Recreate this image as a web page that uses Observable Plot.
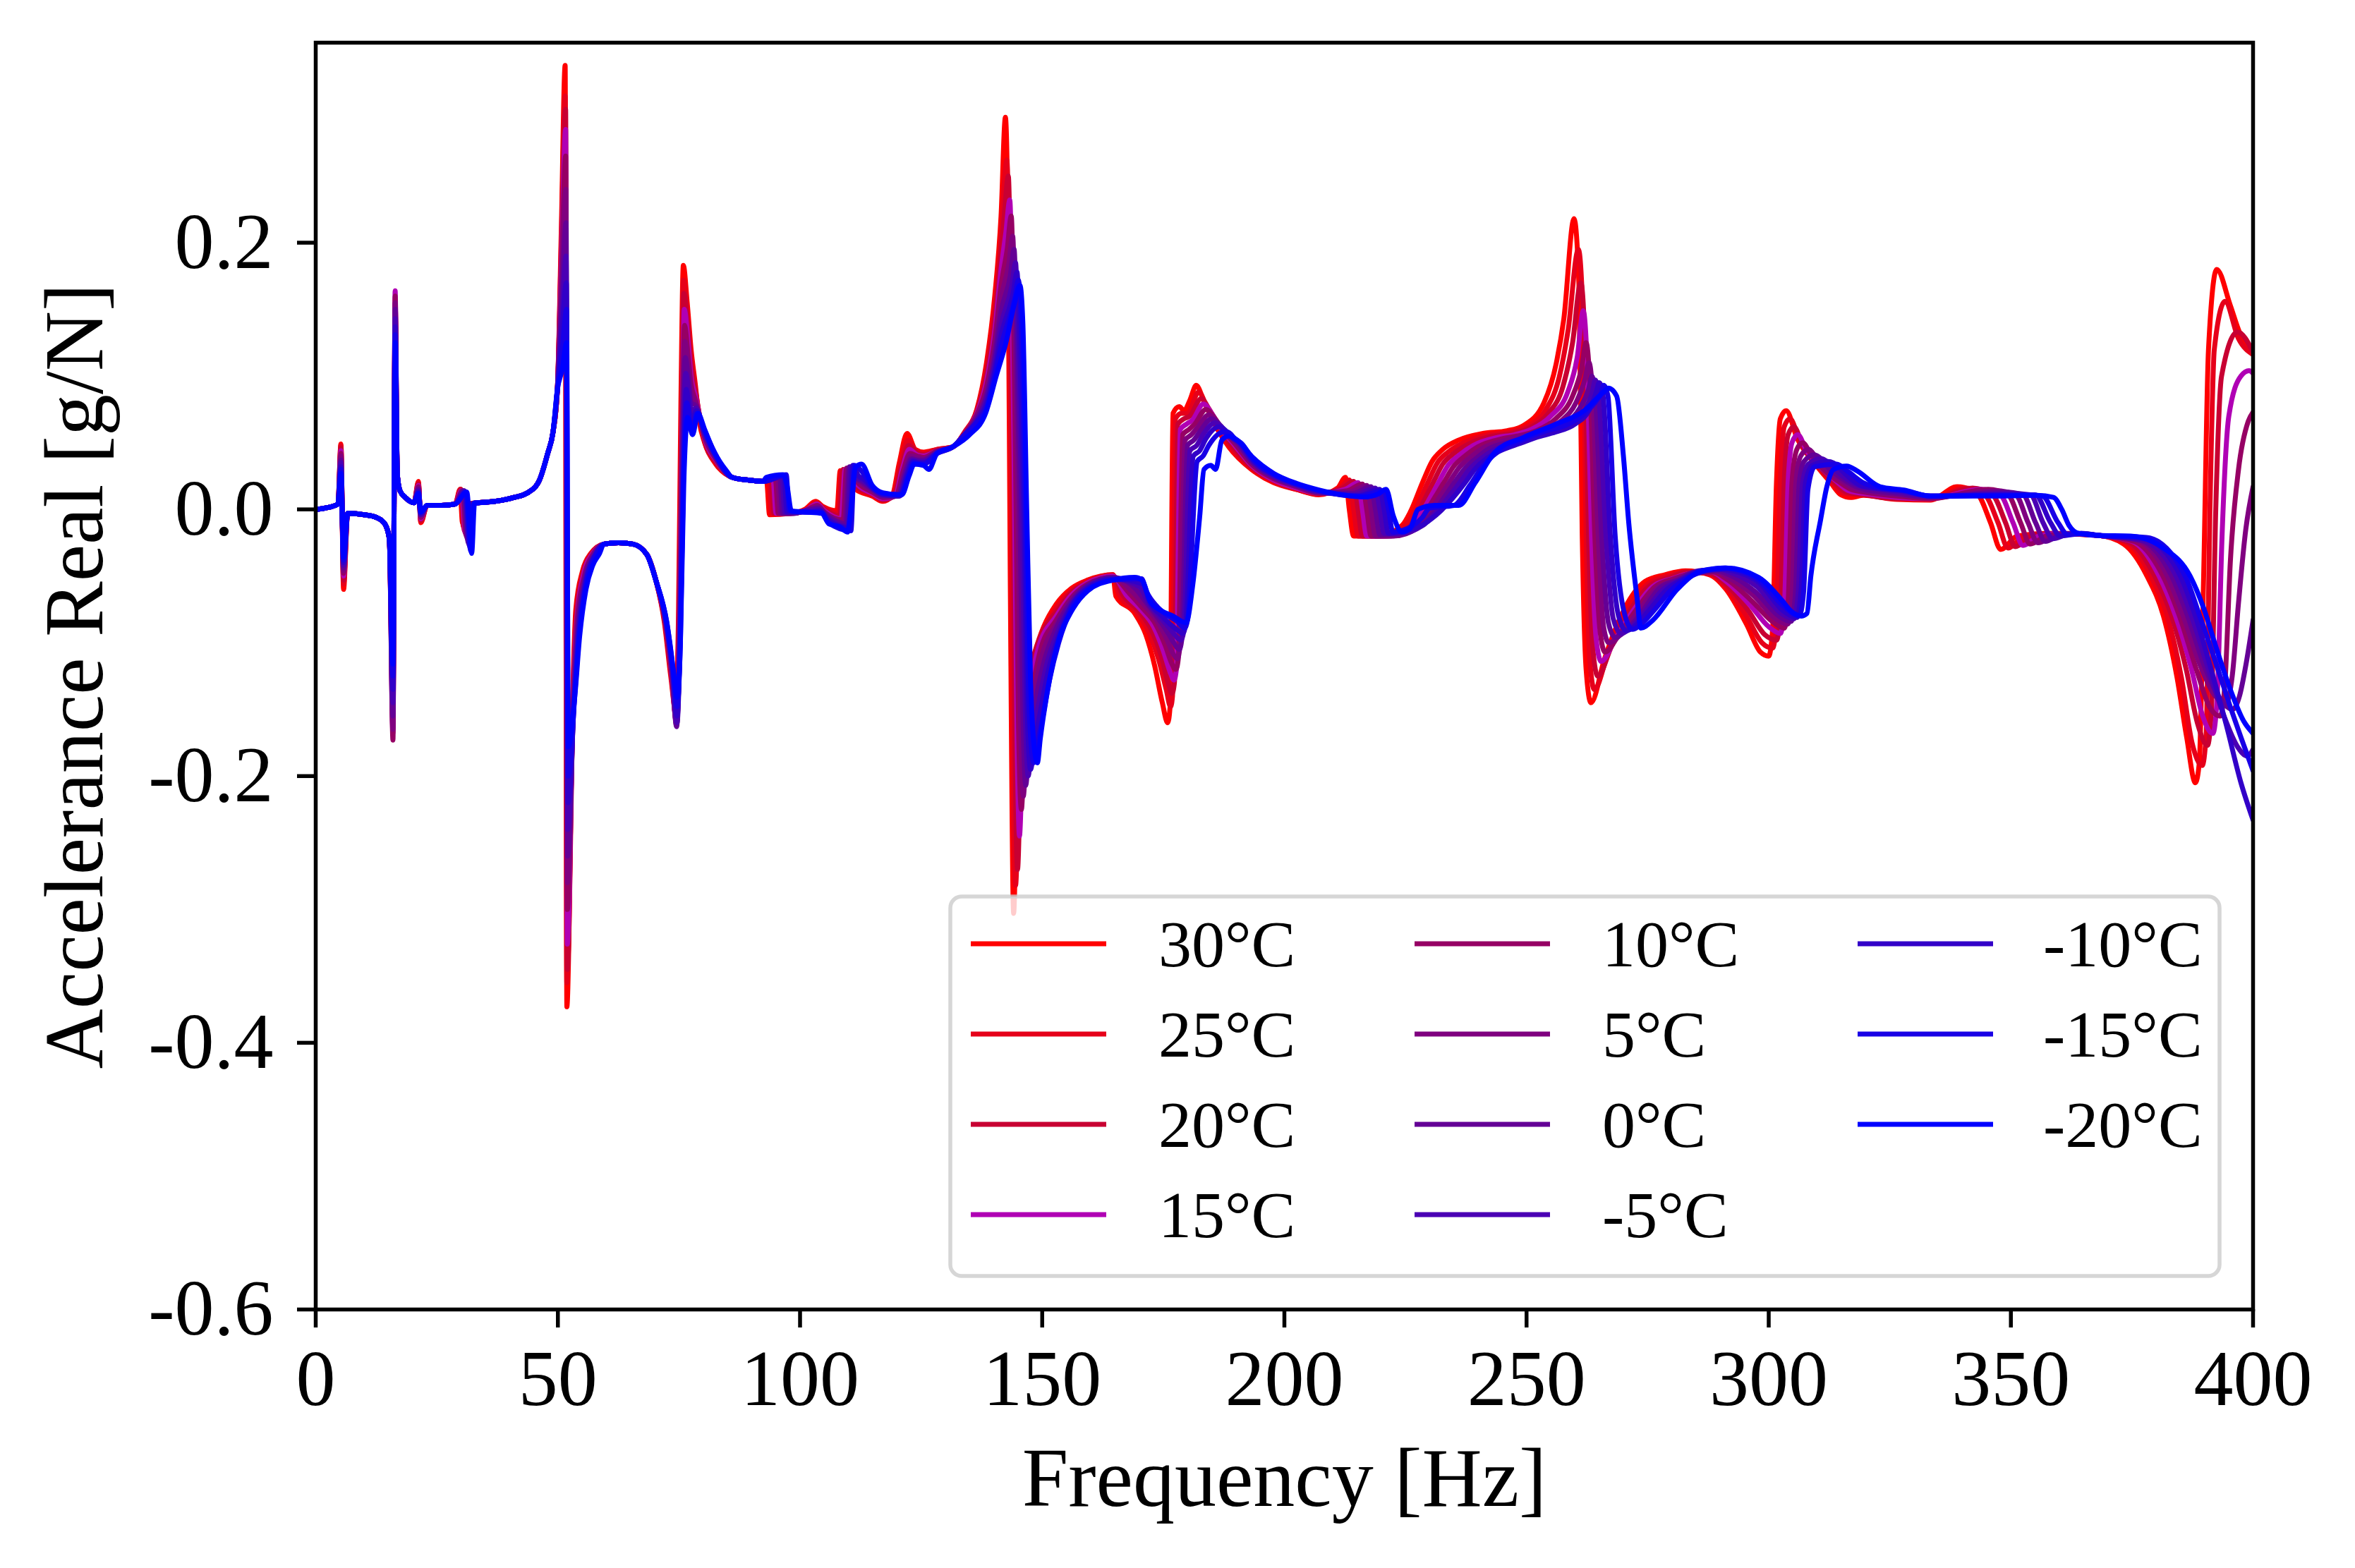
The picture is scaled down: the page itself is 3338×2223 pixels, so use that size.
<!DOCTYPE html>
<html>
<head>
<meta charset="utf-8">
<script src="https://cdn.jsdelivr.net/npm/d3@7"></script>
<script src="https://cdn.jsdelivr.net/npm/@observablehq/plot@0.6"></script>
<style>
  html, body { margin: 0; padding: 0; background: white; }
  #chart { width: 3338px; height: 2223px; }
</style>
</head>
<body>
<div id="chart"></div>
<script>
// ---------------- data ----------------
const seriesLabels = ["30°C", "25°C", "20°C", "15°C", "10°C", "5°C", "0°C", "-5°C", "-10°C", "-15°C", "-20°C"];
const seriesColors = ["#ff0000", "#e6001a", "#c80032", "#b000b4", "#960064", "#800080", "#640096", "#4b00b4", "#3200c8", "#1900e6", "#0000ff"];
const xTicks = [0, 50, 100, 150, 200, 250, 300, 350, 400];
const xTickLabels = ["0", "50", "100", "150", "200", "250", "300", "350", "400"];
const yTicks = [-0.6, -0.4, -0.2, 0, 0.2];
const yTickLabels = ["-0.6", "-0.4", "-0.2", "0.0", "0.2"];
const xLabel = "Frequency [Hz]";
const yLabel = "Accelerance Real [g/N]";

// points [frequency Hz, value g/N] where all temperatures coincide
const sharedPoints = [[0,0.0],[2,0.001],[4.6,0.004],[6.6,-0.003],[10,-0.004],[12.5,-0.006],[14.3,-0.011],[15.2,-0.022],
[17.4,0.014],[18.5,0.009],[20.3,0.005],[23,0.003],[26,0.003],[28.8,0.004],[33.6,0.005],[37,0.006],[41,0.009],[44,0.013],
[46.2,0.022],[47.9,0.042],[49.0,0.058],[49.9,0.09],[59.5,-0.026],[62.5,-0.025],[65.5,-0.026],[68.4,-0.034],[70.3,-0.054],
[86,0.024],[89.2,0.022],[92.4,0.021],[131.6,0.047],[368,-0.0195]];

const t30 = [[5.2,0.049],[5.75,-0.060],[15.95,-0.140],[16.4,0.140],[16.85,0.026],[21.2,0.021],[21.7,-0.010],
[29.8,0.015],[30.3,-0.010],[30.9,0.004],
[50.7,0.208],[51.5,0.333],[51.85,-0.373],[53.1,-0.134],[53.7,-0.075],[55.1,-0.046],[56.8,-0.033],
[72.0,-0.085],[73.3,-0.125],[74.3,-0.150],[74.9,-0.080],[75.4,0.080],[75.9,0.183],[76.7,0.155],[77.5,0.120],[78.4,0.093],[79.2,0.066],[80.3,0.050],[82.6,0.034],
[93.1,0.021],[93.7,-0.004],[98,-0.003],[101,0.000],[103.2,0.006],[104.8,0.002],[107.6,-0.001],[108.3,0.029],[109.5,0.027],[111.5,0.015],[114.9,0.010],[117.1,0.006],[119.0,0.010],[120.5,0.035],[122.1,0.057],[123.8,0.045],[125.5,0.043],[128.3,0.045],
[134.0,0.058],[136.5,0.075],[138.5,0.110],[140.2,0.160],[141.5,0.220],[142.4,0.294],[142.9,0.220],[143.4,-0.050],[144.1,-0.303],[144.7,-0.220],[145.5,-0.160],[146.4,-0.135],[148.3,-0.109],[150.3,-0.088],[152.9,-0.071],[156.1,-0.059],[159.4,-0.053],[164.6,-0.049],[165.2,-0.065],[169.1,-0.078],[171.4,-0.094],[173.2,-0.117],[174.8,-0.145],[175.9,-0.160],[176.4,-0.148],[177.0,0.072],[178.3,0.077],[179.3,0.074],[180.5,0.082],[181.8,0.093],[183.5,0.080],[186.2,0.060],[188.5,0.047],[193.2,0.030],[197.8,0.020],[202.5,0.015],[207.1,0.011],
[211.0,0.016],[212.6,0.024],[213.4,0.000],[214.3,-0.020],[219.3,-0.020],[224.3,-0.012],[226.0,-0.002],[228.5,0.020],[230.5,0.036],[232.7,0.045],[236.0,0.052],[241.0,0.057],[246.0,0.059],[249.4,0.063],[253.6,0.080],[256.1,0.109],[257.7,0.143],[259.8,0.218],[260.8,0.170],[261.5,-0.020],[262.3,-0.120],[263.3,-0.145],[266.1,-0.112],[270.3,-0.074],[274.5,-0.054],[278.6,-0.049],[282.8,-0.046],
[287.8,-0.049],[291.2,-0.060],[295.4,-0.086],[298.3,-0.107],[300.0,-0.110],[300.8,-0.090],[301.6,0.020],[302.4,0.068],[303.6,0.074],[305.9,0.053],[309.4,0.035],[312.8,0.020],[314.9,0.011],[316.9,0.009],[319.6,0.0105],[326.5,0.0075],[333.4,0.007],[338.9,0.017],[343.0,0.012],[345.8,-0.010],[347.9,-0.030],[351.3,-0.020],[357.5,-0.018],
[373.3,-0.026],[378.1,-0.050],[381.5,-0.080],[384.3,-0.126],[386.3,-0.171],[388.1,-0.205],[388.9,-0.190],[389.8,-0.050],[390.8,0.120],[392.5,0.180],[395.3,0.153],[397.3,0.132],[400,0.120]];

const t25 = [[5.2,0.048],[5.75,-0.056],[15.95,-0.150],[16.4,0.148],[16.85,0.026],[21.2,0.020],[21.7,-0.009],
[29.9,0.015],[30.5,-0.013],[31.1,0.004],
[50.7,0.198],[51.5,0.310],[51.85,-0.355],[53.15,-0.135],[53.8,-0.077],[55.2,-0.047],[56.9,-0.033],
[72.1,-0.085],[73.4,-0.124],[74.4,-0.152],[75.0,-0.080],[75.5,0.060],[75.95,0.172],[76.7,0.148],[77.5,0.115],[78.4,0.090],[80.3,0.051],[82.6,0.035],
[93.6,0.022],[94.15,-0.003],[98,-0.003],[101,-0.001],[103.3,0.005],[105,0.001],[107.9,-0.003],[108.6,0.029],[109.8,0.026],[111.6,0.016],[114.9,0.011],[117.1,0.007],[119.2,0.010],[120.7,0.033],[122.25,0.052],[123.9,0.044],[125.5,0.042],[128.3,0.045],
[134.0,0.058],[136.5,0.074],[138.5,0.105],[140.2,0.150],[141.5,0.205],[141.9,0.230],[142.7,0.262],[143.1,0.200],[143.6,0.000],[144.0,-0.200],[144.5,-0.282],[145.2,-0.200],[146.7,-0.133],[148.5,-0.108],[150.3,-0.092],[152.9,-0.074],[156.1,-0.061],[159.4,-0.054],[164.6,-0.049],[165.9,-0.064],[169.5,-0.077],[172.0,-0.092],[174.0,-0.112],[175.6,-0.135],[176.5,-0.148],[176.9,-0.140],[177.5,0.068],[178.8,0.072],[180.0,0.072],[182.3,0.088],[184.0,0.077],[186.5,0.060],[188.7,0.048],[193.2,0.031],[197.8,0.021],[202.5,0.015],[207.1,0.0115],
[211.5,0.016],[213.4,0.022],[214.3,0.000],[215.2,-0.020],[220.0,-0.020],[225.0,-0.012],[226.8,-0.002],[229.6,0.020],[231.6,0.035],[233.8,0.043],[237.0,0.050],[242.0,0.056],[246.5,0.058],[250.0,0.062],[254.0,0.075],[256.8,0.100],[258.6,0.135],[260.7,0.195],[261.6,0.150],[262.3,-0.020],[263.1,-0.115],[264.0,-0.135],[266.8,-0.108],[270.8,-0.075],[275.0,-0.056],[279.0,-0.050],[283.0,-0.047],
[287.8,-0.048],[291.2,-0.058],[295.4,-0.080],[298.6,-0.100],[300.8,-0.104],[301.6,-0.085],[302.4,0.020],[303.2,0.062],[304.4,0.068],[306.5,0.050],[309.8,0.034],[313.2,0.020],[315.5,0.012],[319.6,0.011],[326.5,0.008],[333.4,0.0075],[340.5,0.016],[344.6,0.011],[347.35,-0.010],[349.4,-0.029],[352.8,-0.020],[358.5,-0.018],
[374.0,-0.025],[378.9,-0.050],[382.3,-0.080],[385.2,-0.126],[387.4,-0.175],[389.5,-0.192],[390.3,-0.170],[391.1,0.000],[392.0,0.120],[394.2,0.156],[397.0,0.128],[400,0.116]];

const t20 = [[5.2,0.046],[5.75,-0.053],[15.95,-0.160],[16.4,0.155],[16.85,0.026],[21.2,0.019],[21.7,-0.008],
[30.0,0.015],[30.7,-0.016],[31.3,0.004],
[50.7,0.190],[51.6,0.300],[51.95,-0.345],[53.2,-0.135],[53.9,-0.079],[55.25,-0.048],[57.1,-0.033],
[72.1,-0.085],[73.4,-0.124],[74.4,-0.155],[75.0,-0.080],[75.5,0.050],[76.0,0.162],[76.8,0.138],[77.5,0.108],[78.4,0.088],[80.3,0.052],[82.6,0.036],
[94.0,0.022],[94.6,-0.003],[98,-0.003],[101,-0.001],[103.4,0.004],[105,0.000],[108.2,-0.005],[108.9,0.030],[110.1,0.026],[111.8,0.017],[114.9,0.012],[117.1,0.007],[119.4,0.010],[120.9,0.031],[122.4,0.048],[124.0,0.043],[125.5,0.041],[128.3,0.044],
[134.0,0.057],[136.5,0.073],[138.5,0.100],[140.2,0.142],[141.5,0.192],[142.2,0.222],[143.0,0.250],[143.4,0.190],[144.0,0.000],[144.4,-0.180],[144.9,-0.270],[145.6,-0.190],[147.1,-0.133],[148.8,-0.104],[150.3,-0.090],[152.9,-0.077],[156.1,-0.062],[159.4,-0.055],[164.6,-0.050],[166.6,-0.064],[169.9,-0.076],[172.5,-0.090],[174.6,-0.110],[176.0,-0.130],[176.8,-0.138],[177.3,-0.130],[178.0,0.064],[179.3,0.068],[180.5,0.070],[182.8,0.083],[184.5,0.075],[186.8,0.060],[189.0,0.049],[193.2,0.032],[197.8,0.022],[202.5,0.016],[207.1,0.012],
[212.0,0.016],[214.3,0.021],[215.2,0.000],[216.1,-0.020],[220.8,-0.020],[225.8,-0.013],[227.6,-0.002],[230.7,0.020],[232.7,0.034],[235.0,0.042],[238.0,0.049],[243.0,0.055],[247.0,0.057],[250.5,0.061],[254.5,0.072],[257.5,0.092],[259.5,0.125],[261.2,0.170],[262.0,0.130],[262.8,-0.020],[263.7,-0.105],[264.7,-0.125],[267.5,-0.103],[271.3,-0.076],[275.5,-0.057],[279.5,-0.051],[283.3,-0.047],
[288.0,-0.048],[291.2,-0.056],[295.8,-0.076],[299.2,-0.094],[301.6,-0.098],[302.4,-0.080],[303.2,0.020],[304.0,0.056],[305.2,0.062],[307.1,0.047],[310.2,0.033],[313.6,0.020],[316.0,0.013],[319.6,0.011],[326.5,0.008],[333.4,0.008],[342.1,0.016],[346.2,0.011],[348.9,-0.010],[350.9,-0.028],[354.3,-0.020],[359.5,-0.018],
[374.6,-0.025],[379.7,-0.050],[383.2,-0.080],[386.2,-0.120],[388.5,-0.160],[390.6,-0.177],[391.4,-0.150],[392.3,0.000],[393.5,0.100],[396.8,0.133],[400,0.118]];

const t15 = [[5.2,0.044],[5.75,-0.050],[15.95,-0.168],[16.4,0.164],[16.85,0.026],[21.2,0.018],[21.7,-0.007],
[30.1,0.014],[30.9,-0.018],[31.5,0.004],
[50.7,0.180],[51.6,0.285],[51.95,-0.326],[53.2,-0.136],[53.95,-0.081],[55.3,-0.049],[57.2,-0.033],
[72.2,-0.085],[73.5,-0.124],[74.4,-0.158],[75.1,-0.080],[75.6,0.045],[76.1,0.150],[76.9,0.125],[77.5,0.100],[78.4,0.085],[80.3,0.053],[82.6,0.037],
[94.4,0.023],[95.05,-0.003],[98,-0.003],[101,-0.001],[103.5,0.004],[105,-0.001],[108.5,-0.007],[109.3,0.030],[110.5,0.025],[112.0,0.018],[114.9,0.012],[117.1,0.008],[119.6,0.010],[121.1,0.030],[122.55,0.045],[124.1,0.041],[125.5,0.040],[128.3,0.044],
[134.0,0.057],[136.5,0.072],[138.5,0.096],[140.2,0.134],[141.5,0.180],[142.5,0.208],[143.3,0.232],[143.7,0.180],[144.3,0.000],[144.8,-0.170],[145.3,-0.245],[146.0,-0.178],[147.5,-0.134],[149.2,-0.104],[152.9,-0.080],[156.1,-0.064],[159.4,-0.055],[164.6,-0.050],[167.3,-0.064],[170.3,-0.075],[173.0,-0.088],[175.0,-0.106],[176.4,-0.122],[177.2,-0.128],[177.7,-0.120],[178.5,0.060],[179.8,0.064],[181.0,0.067],[183.3,0.079],[185.0,0.072],[187.2,0.059],[189.3,0.050],[193.2,0.033],[197.8,0.022],[202.5,0.016],[207.1,0.012],
[212.5,0.015],[215.2,0.020],[216.1,0.000],[217.0,-0.020],[221.5,-0.020],[226.5,-0.013],[228.4,-0.002],[231.8,0.020],[233.8,0.033],[236.2,0.041],[239.0,0.048],[244.0,0.054],[247.5,0.056],[251.0,0.060],[255.0,0.070],[258.5,0.088],[260.5,0.115],[261.7,0.149],[262.5,0.110],[263.4,-0.020],[264.4,-0.098],[265.4,-0.114],[268.2,-0.098],[271.8,-0.077],[276.0,-0.058],[280.0,-0.052],[283.8,-0.048],
[288.2,-0.047],[291.2,-0.054],[296.2,-0.072],[300.0,-0.088],[302.4,-0.093],[303.2,-0.075],[304.0,0.020],[304.8,0.050],[306.0,0.056],[307.8,0.044],[310.6,0.032],[314.0,0.021],[316.5,0.014],[319.6,0.012],[326.5,0.009],[333.4,0.008],[343.7,0.015],[347.8,0.011],[350.45,-0.010],[352.5,-0.027],[355.8,-0.020],[360.5,-0.018],
[375.0,-0.024],[380.6,-0.050],[384.0,-0.080],[387.3,-0.120],[389.6,-0.155],[391.7,-0.168],[392.6,-0.140],[393.6,-0.020],[395.0,0.070],[397.5,0.100],[399.2,0.104],[400,0.102]];

const t10 = [[5.2,0.042],[5.75,-0.048],[15.95,-0.173],[16.4,0.160],[16.85,0.026],[21.2,0.017],[21.7,-0.006],
[30.3,0.014],[31.1,-0.020],[31.7,0.004],
[50.7,0.170],[51.6,0.265],[51.95,-0.300],[53.25,-0.137],[54.0,-0.083],[55.4,-0.051],[57.35,-0.033],
[72.2,-0.085],[73.5,-0.123],[74.5,-0.160],[75.1,-0.085],[75.6,0.040],[76.15,0.138],[76.9,0.115],[77.5,0.094],[78.4,0.082],[80.3,0.054],[82.6,0.038],
[94.9,0.023],[95.5,-0.003],[98,-0.003],[101,-0.001],[103.6,0.003],[105,-0.002],[108.9,-0.008],[109.6,0.031],[110.8,0.025],[112.2,0.019],[114.9,0.013],[117.1,0.009],[119.8,0.010],[121.3,0.029],[122.7,0.042],[124.2,0.040],[125.5,0.039],[128.3,0.044],
[134.0,0.057],[136.5,0.071],[138.5,0.092],[140.2,0.127],[141.5,0.168],[142.8,0.196],[143.6,0.220],[144.0,0.170],[144.6,0.000],[145.1,-0.160],[145.7,-0.225],[146.4,-0.170],[147.9,-0.136],[149.6,-0.106],[152.9,-0.083],[156.1,-0.066],[159.4,-0.056],[164.6,-0.051],[168.0,-0.063],[170.7,-0.074],[173.4,-0.086],[175.4,-0.102],[176.8,-0.116],[177.6,-0.120],[178.1,-0.112],[179.0,0.056],[180.3,0.060],[181.5,0.064],[183.8,0.075],[185.5,0.069],[187.6,0.058],[189.6,0.050],[193.2,0.034],[197.8,0.023],[202.5,0.017],[207.1,0.012],
[213.0,0.014],[216.1,0.019],[217.0,0.000],[217.9,-0.020],[222.0,-0.020],[227.2,-0.013],[229.2,-0.002],[232.9,0.020],[234.9,0.032],[237.3,0.040],[240.0,0.047],[245.0,0.053],[248.0,0.055],[252.0,0.059],[256.0,0.068],[259.5,0.085],[261.3,0.105],[262.3,0.125],[263.0,0.100],[264.1,-0.020],[265.2,-0.092],[266.2,-0.107],[268.9,-0.095],[272.3,-0.077],[276.5,-0.058],[280.4,-0.052],[284.2,-0.048],
[288.5,-0.047],[291.2,-0.052],[296.6,-0.069],[300.7,-0.084],[303.2,-0.089],[304.0,-0.070],[304.8,0.020],[305.8,0.045],[307.0,0.050],[308.6,0.042],[311.0,0.031],[314.4,0.021],[317.0,0.015],[319.6,0.013],[326.5,0.010],[333.4,0.008],[345.3,0.015],[349.4,0.011],[352.0,-0.010],[354.0,-0.026],[357.3,-0.020],[361.5,-0.018],
[375.5,-0.024],[381.4,-0.050],[384.8,-0.080],[388.3,-0.120],[391.0,-0.148],[393.2,-0.155],[394.2,-0.130],[395.3,-0.040],[397.0,0.030],[399.0,0.066],[400,0.073]];

const t5 = [[5.2,0.040],[5.75,-0.046],[15.95,-0.165],[16.4,0.155],[16.85,0.026],[21.2,0.016],[21.7,-0.005],
[30.4,0.014],[31.3,-0.022],[31.9,0.004],
[50.75,0.160],[51.65,0.240],[52.0,-0.280],[53.3,-0.137],[54.1,-0.085],[55.45,-0.052],[57.5,-0.033],
[72.3,-0.085],[73.6,-0.122],[74.5,-0.162],[75.2,-0.088],[75.7,0.035],[76.2,0.126],[77.0,0.105],[77.5,0.088],[78.4,0.080],[80.3,0.055],[82.6,0.038],
[95.35,0.024],[95.95,-0.003],[98.5,-0.003],[101,-0.001],[103.7,0.002],[105.2,-0.003],[109.2,-0.010],[109.9,0.031],[111.1,0.024],[112.4,0.020],[114.9,0.014],[117.1,0.009],[120.0,0.010],[121.5,0.028],[122.85,0.040],[124.3,0.039],[125.5,0.038],[128.3,0.043],
[134.0,0.056],[136.5,0.070],[138.5,0.088],[140.2,0.120],[141.5,0.158],[143.1,0.184],[143.9,0.205],[144.3,0.160],[145.0,0.000],[145.5,-0.150],[146.1,-0.215],[146.8,-0.170],[148.3,-0.138],[150.0,-0.109],[152.9,-0.086],[156.1,-0.067],[159.4,-0.057],[164.6,-0.051],[168.7,-0.062],[171.1,-0.072],[173.8,-0.084],[175.8,-0.098],[177.3,-0.110],[177.9,-0.112],[178.4,-0.104],[179.5,0.052],[180.8,0.056],[182.0,0.061],[184.4,0.071],[186.0,0.066],[188.0,0.057],[190.0,0.050],[193.2,0.035],[197.8,0.024],[202.5,0.017],[207.1,0.013],
[213.5,0.013],[217.0,0.018],[217.9,0.000],[218.8,-0.020],[222.6,-0.020],[227.8,-0.013],[230.0,-0.002],[234.0,0.020],[236.0,0.031],[238.4,0.039],[241.0,0.046],[246.0,0.052],[249.0,0.055],[253.0,0.058],[257.0,0.066],[260.2,0.080],[262.0,0.097],[262.9,0.110],[263.6,0.090],[264.8,-0.020],[265.9,-0.088],[267.0,-0.100],[269.6,-0.093],[272.8,-0.078],[277.0,-0.059],[280.8,-0.053],[284.6,-0.047],
[289.0,-0.046],[291.2,-0.050],[297.0,-0.065],[301.4,-0.082],[303.9,-0.086],[304.8,-0.066],[305.6,0.020],[306.6,0.040],[308.2,0.045],[309.6,0.040],[311.6,0.031],[314.8,0.022],[317.5,0.016],[319.6,0.014],[326.5,0.011],[333.4,0.009],[346.9,0.014],[351.0,0.011],[353.55,-0.010],[355.55,-0.025],[358.8,-0.020],[362.5,-0.018],
[376.0,-0.023],[382.3,-0.050],[385.6,-0.080],[389.2,-0.118],[392.2,-0.140],[394.5,-0.145],[395.7,-0.125],[397.0,-0.070],[398.5,-0.015],[400,0.017]];

const t0 = [[5.2,0.037],[5.75,-0.044],[15.95,-0.155],[16.4,0.150],[16.85,0.026],[21.2,0.015],[21.7,-0.004],
[30.6,0.014],[31.5,-0.025],[32.1,0.004],
[50.75,0.150],[51.7,0.215],[52.05,-0.260],[53.35,-0.138],[54.2,-0.087],[55.5,-0.054],[57.65,-0.033],
[72.3,-0.085],[73.6,-0.122],[74.5,-0.163],[75.2,-0.090],[75.7,0.030],[76.3,0.114],[77.0,0.096],[77.5,0.080],[78.4,0.078],[80.3,0.056],[82.6,0.039],
[95.8,0.024],[96.4,-0.003],[98.8,-0.003],[101,-0.001],[103.8,0.001],[105.4,-0.004],[109.5,-0.011],[110.2,0.032],[111.4,0.024],[112.6,0.021],[114.9,0.015],[117.1,0.010],[120.2,0.010],[121.7,0.027],[123.0,0.038],[124.4,0.037],[125.5,0.037],[128.3,0.043],
[134.0,0.056],[136.5,0.068],[138.5,0.085],[140.2,0.114],[141.5,0.148],[143.4,0.175],[144.2,0.195],[144.6,0.150],[145.4,0.000],[146.0,-0.150],[146.6,-0.207],[147.3,-0.172],[148.7,-0.142],[150.4,-0.114],[152.9,-0.089],[156.1,-0.069],[159.4,-0.057],[164.6,-0.051],[169.4,-0.060],[171.5,-0.070],[174.2,-0.083],[176.2,-0.094],[177.7,-0.103],[178.3,-0.105],[178.8,-0.098],[180.0,0.048],[181.3,0.052],[182.5,0.058],[185.0,0.068],[186.5,0.064],[188.4,0.056],[190.3,0.050],[193.2,0.036],[197.8,0.024],[202.5,0.018],[207.1,0.013],
[214.0,0.012],[217.9,0.017],[218.8,0.000],[219.7,-0.019],[223.2,-0.019],[228.3,-0.012],[230.8,-0.002],[235.1,0.020],[237.1,0.030],[239.5,0.038],[242.0,0.045],[247.0,0.051],[250.0,0.054],[254.0,0.058],[258.0,0.064],[261.0,0.076],[262.8,0.090],[263.5,0.100],[264.2,0.085],[265.5,-0.020],[266.9,-0.085],[268.3,-0.096],[270.5,-0.091],[273.4,-0.079],[277.5,-0.059],[281.2,-0.053],[285.0,-0.047],
[289.5,-0.046],[291.2,-0.048],[297.3,-0.062],[302.1,-0.080],[304.6,-0.084],[305.5,-0.064],[306.3,0.020],[307.3,0.036],[309.4,0.041],[310.8,0.038],[312.4,0.031],[315.2,0.023],[318.0,0.017],[320.0,0.015],[326.5,0.012],[333.4,0.009],[348.5,0.013],[352.5,0.011],[355.1,-0.010],[357.1,-0.024],[360.3,-0.019],[363.5,-0.018],
[376.5,-0.023],[383.2,-0.050],[386.5,-0.080],[390.0,-0.118],[393.2,-0.142],[395.8,-0.150],[397.2,-0.140],[398.6,-0.115],[400,-0.083]];

const tm5 = [[5.2,0.035],[5.75,-0.042],[15.95,-0.145],[16.4,0.143],[16.85,0.026],[21.2,0.014],[21.7,-0.004],
[30.7,0.014],[31.7,-0.027],[32.3,0.004],
[50.8,0.140],[51.7,0.190],[52.05,-0.240],[53.4,-0.138],[54.25,-0.089],[55.6,-0.055],[57.8,-0.033],
[72.4,-0.085],[73.7,-0.121],[74.6,-0.160],[75.25,-0.093],[75.8,0.025],[76.4,0.102],[77.1,0.085],[77.6,0.073],[78.5,0.076],[80.3,0.057],[82.6,0.040],
[96.25,0.025],[96.85,-0.002],[99.2,-0.002],[101.5,-0.001],[103.9,0.000],[105.6,-0.006],[109.8,-0.013],[110.5,0.032],[111.7,0.024],[112.8,0.022],[114.9,0.016],[117.1,0.011],[120.4,0.010],[121.9,0.026],[123.15,0.037],[124.5,0.036],[125.5,0.036],[128.3,0.043],
[134.0,0.056],[136.5,0.067],[138.5,0.082],[140.2,0.109],[141.5,0.138],[143.7,0.167],[144.5,0.185],[144.9,0.145],[145.8,0.000],[146.5,-0.150],[147.1,-0.200],[147.8,-0.175],[149.2,-0.147],[150.8,-0.118],[153.2,-0.092],[156.1,-0.071],[159.4,-0.058],[164.6,-0.052],[170.1,-0.058],[171.9,-0.070],[174.4,-0.081],[176.5,-0.090],[178.1,-0.097],[178.6,-0.098],[179.2,-0.092],[180.5,0.044],[181.9,0.048],[183.2,0.056],[185.7,0.065],[187.0,0.062],[188.8,0.055],[190.6,0.050],[193.2,0.037],[197.8,0.025],[202.5,0.018],[207.1,0.013],
[214.5,0.011],[218.8,0.016],[219.7,0.000],[220.6,-0.018],[223.6,-0.018],[228.6,-0.012],[231.6,-0.001],[236.2,0.020],[238.2,0.030],[240.6,0.038],[243.0,0.044],[248.0,0.050],[251.0,0.054],[255.0,0.058],[259.0,0.064],[262.0,0.074],[263.6,0.088],[264.2,0.097],[264.9,0.085],[266.4,-0.020],[267.9,-0.082],[269.5,-0.093],[271.5,-0.089],[274.2,-0.078],[278.2,-0.060],[281.8,-0.053],[285.5,-0.046],
[290.0,-0.045],[291.8,-0.047],[297.6,-0.058],[302.6,-0.078],[305.2,-0.082],[306.1,-0.062],[307.0,0.020],[308.2,0.034],[310.8,0.038],[312.0,0.036],[313.4,0.031],[315.6,0.024],[318.5,0.018],[321.0,0.016],[327.0,0.013],[333.4,0.010],[350.0,0.012],[354.0,0.011],[356.65,-0.010],[358.65,-0.022],[361.5,-0.019],[364.5,-0.018],
[377.0,-0.023],[384.1,-0.050],[387.3,-0.080],[390.8,-0.120],[394.0,-0.155],[396.8,-0.178],[398.8,-0.185],[400,-0.180]];

const tm10 = [[5.2,0.032],[5.75,-0.040],[15.95,-0.135],[16.4,0.137],[16.85,0.026],[21.2,0.013],[21.7,-0.003],
[30.9,0.013],[31.9,-0.029],[32.5,0.004],
[50.8,0.130],[51.75,0.170],[52.1,-0.220],[53.45,-0.139],[54.35,-0.091],[55.65,-0.057],[57.9,-0.033],
[72.4,-0.085],[73.7,-0.121],[74.6,-0.155],[75.25,-0.095],[75.9,0.020],[76.5,0.090],[77.2,0.072],[77.7,0.066],[78.6,0.074],[80.3,0.058],[82.6,0.040],
[96.7,0.025],[97.3,-0.002],[99.6,-0.002],[102,-0.002],[104.1,-0.001],[105.8,-0.008],[110.2,-0.014],[110.9,0.033],[112.1,0.025],[113.1,0.023],[114.9,0.016],[117.1,0.011],[120.6,0.010],[122.1,0.026],[123.3,0.036],[124.6,0.035],[125.5,0.035],[128.3,0.042],
[134.0,0.056],[136.5,0.066],[138.5,0.079],[140.2,0.104],[141.5,0.130],[144.0,0.162],[144.8,0.178],[145.2,0.145],[146.2,0.000],[146.9,-0.150],[147.6,-0.195],[148.3,-0.178],[149.6,-0.152],[151.2,-0.122],[153.3,-0.096],[156.1,-0.072],[159.4,-0.059],[164.6,-0.052],[170.8,-0.056],[172.1,-0.069],[174.5,-0.079],[176.7,-0.087],[178.5,-0.092],[179.0,-0.093],[179.6,-0.087],[181.2,0.040],[182.5,0.044],[183.8,0.053],[186.5,0.062],[187.6,0.060],[189.2,0.054],[191.0,0.049],[193.2,0.038],[197.8,0.026],[202.5,0.019],[207.1,0.014],
[215.0,0.010],[219.7,0.015],[220.6,0.000],[221.5,-0.018],[224.0,-0.017],[228.8,-0.011],[232.3,-0.001],[237.3,0.020],[239.3,0.030],[241.7,0.038],[244.0,0.043],[249.0,0.050],[252.0,0.054],[256.0,0.058],[260.0,0.064],[263.0,0.075],[264.4,0.088],[265.0,0.095],[265.8,0.085],[267.3,-0.020],[269.0,-0.080],[270.6,-0.091],[272.5,-0.087],[275.0,-0.077],[279.0,-0.060],[282.5,-0.052],[286.0,-0.046],
[290.5,-0.045],[292.5,-0.046],[298.0,-0.055],[303.0,-0.076],[305.8,-0.081],[306.7,-0.060],[307.6,0.020],[309.0,0.033],[312.2,0.036],[313.3,0.035],[314.6,0.031],[316.3,0.025],[319.0,0.018],[322.0,0.016],[327.5,0.014],[333.4,0.010],[351.5,0.011],[355.0,0.011],[358.2,-0.010],[360.2,-0.020],[362.5,-0.019],[365.0,-0.018],
[377.5,-0.022],[385.0,-0.050],[388.1,-0.080],[391.5,-0.122],[394.5,-0.162],[397.5,-0.205],[400,-0.233]];

const tm15 = [[5.2,0.030],[5.75,-0.038],[15.95,-0.125],[16.4,0.131],[16.85,0.026],[21.2,0.012],[21.7,-0.002],
[31.0,0.013],[32.0,-0.031],[32.6,0.004],
[50.85,0.117],[51.8,0.150],[52.15,-0.200],[53.5,-0.139],[54.4,-0.093],[55.7,-0.058],[58.0,-0.033],
[72.5,-0.085],[73.8,-0.120],[74.6,-0.148],[75.3,-0.098],[75.9,0.020],[76.6,0.080],[77.3,0.064],[77.8,0.060],[78.7,0.072],[80.3,0.059],[82.6,0.041],
[97.15,0.026],[97.75,-0.001],[100,-0.002],[102.5,-0.002],[104.3,-0.002],[105.9,-0.010],[110.5,-0.016],[111.2,0.033],[112.4,0.030],[114.9,0.017],[117.1,0.012],[120.8,0.011],[122.3,0.025],[123.45,0.035],[124.8,0.034],[125.6,0.034],[128.3,0.042],
[134.0,0.056],[136.5,0.065],[138.5,0.076],[140.2,0.100],[141.5,0.122],[144.3,0.158],[145.1,0.172],[145.6,0.145],[146.5,0.000],[147.3,-0.150],[148.3,-0.190],[148.9,-0.178],[150.0,-0.158],[151.5,-0.128],[153.4,-0.100],[156.1,-0.074],[159.4,-0.060],[164.6,-0.053],[170.5,-0.052],[171.6,-0.062],[173.5,-0.072],[175.6,-0.079],[177.9,-0.084],[179.4,-0.089],[180.0,-0.083],[182.0,0.036],[183.2,0.040],[184.4,0.048],[187.4,0.058],[188.3,0.058],[189.8,0.053],[191.3,0.049],[193.2,0.039],[197.8,0.026],[202.5,0.019],[207.1,0.014],
[215.5,0.010],[220.6,0.014],[221.5,0.000],[222.4,-0.017],[224.2,-0.016],[228.5,-0.006],[230.0,0.001],[235.0,0.003],[238.3,0.018],[240.5,0.030],[243.0,0.040],[249.2,0.052],[254.0,0.059],[258.0,0.063],[262.0,0.072],[264.5,0.082],[265.4,0.087],[265.9,0.093],[266.8,0.085],[268.3,-0.020],[270.2,-0.078],[271.9,-0.090],[274.0,-0.085],[276.5,-0.075],[280.0,-0.060],[283.5,-0.051],[287.0,-0.046],
[291.0,-0.044],[293.0,-0.045],[298.0,-0.053],[302.9,-0.072],[306.3,-0.080],[307.2,-0.062],[308.1,0.015],[309.5,0.032],[314.0,0.034],[316.5,0.028],[319.5,0.020],[323.0,0.016],[328.0,0.014],[333.4,0.010],[353.0,0.011],[356.5,0.010],[359.75,-0.010],[361.75,-0.019],[364.5,-0.018],
[378.0,-0.021],[386.0,-0.050],[389.0,-0.080],[392.3,-0.115],[395.3,-0.148],[398.0,-0.176],[400,-0.196]];

const tm20 = [[5.2,0.027],[5.75,-0.036],[15.95,-0.116],[16.4,0.125],[16.85,0.026],[21.2,0.012],[21.7,-0.002],
[31.2,0.013],[32.2,-0.033],[32.8,0.005],
[50.9,0.105],[51.8,0.125],[52.15,-0.178],[53.5,-0.140],[54.5,-0.095],[55.8,-0.060],[57.2,-0.042],[58.6,-0.033],
[72.5,-0.085],[73.8,-0.120],[74.6,-0.141],[75.3,-0.100],[76.0,0.020],[76.8,0.069],[77.8,0.056],[78.9,0.072],[80.3,0.060],[82.0,0.045],[84.8,0.029],
[93.0,0.024],[96.5,0.026],[97.3,0.018],[98.2,-0.001],[101,-0.002],[104.5,-0.003],[106.0,-0.011],[108.2,-0.013],[109.8,-0.017],[110.5,0.000],[111.5,0.032],[112.7,0.034],[114.9,0.018],[117.1,0.0125],[121.0,0.011],[122.5,0.025],[123.6,0.034],[125.5,0.033],[126.6,0.030],[128.3,0.042],
[135.0,0.056],[138.3,0.072],[140.5,0.100],[142.5,0.125],[144.3,0.155],[145.4,0.168],[146.0,0.140],[146.8,0.000],[147.6,-0.130],[148.4,-0.180],[149.0,-0.190],[149.6,-0.172],[151.6,-0.126],[153.5,-0.097],[156.1,-0.076],[159.4,-0.061],[164.6,-0.053],[169.1,-0.051],[170.6,-0.053],[172.3,-0.069],[174.6,-0.076],[177.0,-0.080],[179.7,-0.085],[181.1,-0.056],[182.5,-0.006],[183.4,0.030],[184.8,0.033],[185.8,0.030],[187.1,0.052],[188.5,0.055],[190.9,0.050],[193.2,0.040],[197.8,0.027],[202.5,0.0195],[207.1,0.0146],
[211.8,0.011],[216.4,0.0093],[219.3,0.0115],[221.0,0.015],[222.5,-0.005],[224.3,-0.017],[226.0,-0.014],[227.6,0.000],[231.0,0.003],[236.0,0.003],[239.4,0.020],[243.5,0.043],[249.4,0.054],[256.1,0.064],[261.9,0.074],[266.1,0.0887],[266.9,0.091],[268.6,0.085],[270.0,0.040],[271.1,-0.010],[272.8,-0.066],[273.6,-0.089],[276.1,-0.083],[281.1,-0.060],[286.2,-0.046],
[291.2,-0.044],[297.9,-0.051],[302.9,-0.069],[304.5,-0.076],[306.8,-0.080],[307.9,-0.078],[308.7,-0.050],[310.7,-0.008],[312.0,0.017],[313.4,0.030],[316.1,0.0325],[318.2,0.029],[323.0,0.017],[327.9,0.0145],[333.4,0.010],[340.3,0.010],[347.2,0.010],[355.4,0.0105],[358.8,0.009],[360.5,0.000],[362.0,-0.012],[364.0,-0.018],
[374.7,-0.020],[381.5,-0.029],[387.0,-0.050],[389.8,-0.074],[392.5,-0.105],[395.3,-0.135],[398.1,-0.159],[400,-0.168]];

const seriesPoints = [t30, t25, t20, t15, t10, t5, t0, tm5, tm10, tm15, tm20];

// ---------------- build rows ----------------
const rows = [];
seriesPoints.forEach((own, k) => {
  const pts = sharedPoints.concat(own).sort((a, b) => a[0] - b[0]);
  for (const [f, v] of pts) rows.push({f, v, series: seriesLabels[k]});
});

// ---------------- layout ----------------
const W = 3338, H = 2223;
const mL = 447, mR = 145, mT = 60, mB = 367;
const font = "'Liberation Serif', 'Times New Roman', serif";

const plot = Plot.plot({
  width: W, height: H,
  marginLeft: mL, marginRight: mR, marginTop: mT, marginBottom: mB,
  style: {fontFamily: font, background: "white", color: "black"},
  x: {domain: [0, 400]},
  y: {domain: [-0.6, 0.35]},
  color: {domain: seriesLabels, range: seriesColors},
  marks: [
    Plot.line(rows, {x: "f", y: "v", z: "series", stroke: "series", strokeWidth: 7, curve: "monotone-x", clip: true}),
    Plot.frame({stroke: "black", strokeWidth: 5.5}),
    Plot.axisX({ticks: xTicks, tickFormat: d => xTickLabels[xTicks.indexOf(d)], tickSize: 26, tickPadding: 30,
      fontSize: 112, strokeWidth: 5.5, label: null}),
    Plot.axisY({ticks: yTicks, tickFormat: d => yTickLabels[yTicks.indexOf(d)], tickSize: 26, tickPadding: 34,
      fontSize: 112, strokeWidth: 5.5, label: null}),
    Plot.text([xLabel], {text: d => d, frameAnchor: "bottom", dy: 241, lineAnchor: "middle", textAnchor: "middle", fontSize: 118}),
    Plot.text([yLabel], {text: d => d, frameAnchor: "left", rotate: -90, dx: -340, lineAnchor: "middle", textAnchor: "middle", fontSize: 118})
  ]
});

// ---------------- legend (inside the frame, lower right) ----------------
const svg = d3.select(plot);
const frameRight = W - mR, frameBottom = H - mB;
const boxW = 1799, boxH = 538;
const boxX = frameRight - 47 - boxW, boxY = frameBottom - 47 - boxH;
const lg = svg.append("g").attr("class", "legend");
lg.append("rect").attr("x", boxX).attr("y", boxY).attr("width", boxW).attr("height", boxH)
  .attr("rx", 16).attr("ry", 16)
  .attr("fill", "white").attr("fill-opacity", 0.8)
  .attr("stroke", "#cccccc").attr("stroke-opacity", 0.8).attr("stroke-width", 5.5);
const colHandle = [29, 658, 1286];
const colText = [295, 924, 1549];
const rowY = [67, 195, 323, 451];
seriesLabels.forEach((lab, k) => {
  const c = Math.floor(k / 4), r = k % 4;
  const y = boxY + rowY[r];
  lg.append("line").attr("x1", boxX + colHandle[c]).attr("x2", boxX + colHandle[c] + 192)
    .attr("y1", y).attr("y2", y).attr("stroke", seriesColors[k]).attr("stroke-width", 7);
  lg.append("text").attr("x", boxX + colText[c]).attr("y", y).attr("dy", "0.34em")
    .attr("text-anchor", "start")
    .attr("font-family", font).attr("font-size", 94).attr("fill", "black").text(lab);
});

document.getElementById("chart").appendChild(plot);
</script>
</body>
</html>
